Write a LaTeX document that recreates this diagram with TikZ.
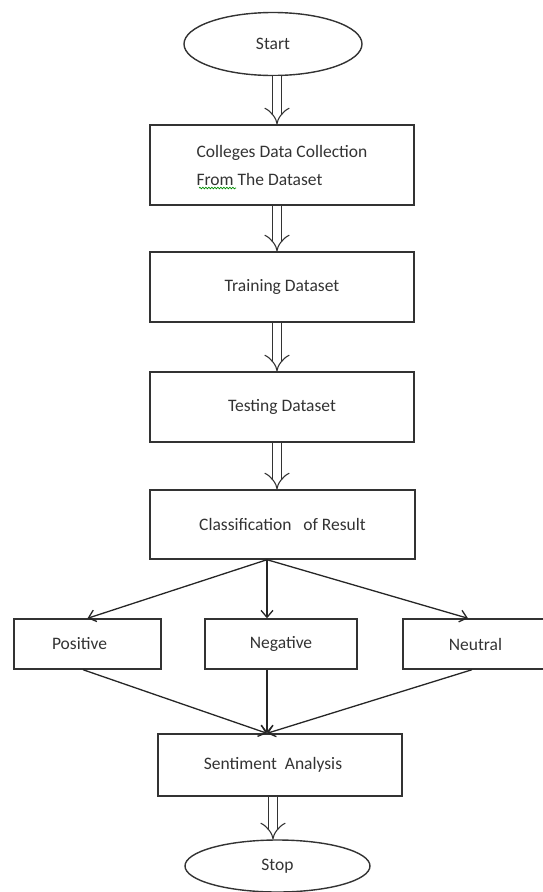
\documentclass[tikz,border=0pt]{standalone}
\usepackage{fontspec}
\setmainfont{Carlito}
\usetikzlibrary{arrows.meta,shapes.geometric,decorations.pathmorphing}
\begin{document}
\begin{tikzpicture}[x=1pt,y=-1pt,
  box/.style={draw=black!80, line width=1.4pt, rectangle, inner sep=0pt,
    font=\fontsize{17.5}{28}\selectfont, text=black!80},
  oval/.style={draw=black!80, line width=1.4pt, ellipse, inner sep=0pt,
    font=\fontsize{17.5}{21}\selectfont, text=black!80},
  dbl/.style={draw=black!80, line width=1.1pt, double, double distance=8pt, -{Implies}},
  arr/.style={draw=black!85, line width=1.3pt, -{Straight Barb[length=7pt,width=12pt]}}
]
\useasboundingbox (0,0) rectangle (542,892);
\node[oval, minimum width=178pt, minimum height=63pt] (start) at (273,44) {Start};
\node[box, minimum width=264pt, minimum height=80pt, align=left] (b1) at (282,165) {Colleges Data Collection\\From The Dataset};
\node[box, minimum width=264pt, minimum height=70pt] (b2) at (282,287) {Training Dataset};
\node[box, minimum width=264pt, minimum height=70pt] (b3) at (282,407) {Testing Dataset};
\node[box, minimum width=265pt, minimum height=69pt] (b4) at (282.5,524.5) {Classification\ \ \ of Result};
\node[box, minimum width=147pt, minimum height=50pt] (pos) at (87.5,644) {Positive\kern16pt};
\node[box, minimum width=152pt, minimum height=50pt] (neg) at (281,644) {Negative};
\node[box, minimum width=145pt, minimum height=50pt] (neu) at (475.5,644) {Neutral};
\node[box, minimum width=244pt, minimum height=62pt] (sent) at (280,765) {Sentiment\ \ Analysis\kern14pt};
\node[oval, minimum width=185pt, minimum height=52pt] (stop) at (277.5,866) {Stop};

\draw[dbl] ([xshift=4pt]start.south) -- ([xshift=-5pt]b1.north);
\draw[dbl] ([xshift=-5pt]b1.south) -- ([xshift=-5pt]b2.north);
\draw[dbl] ([xshift=-5pt]b2.south) -- ([xshift=-5pt]b3.north);
\draw[dbl] ([xshift=-5pt]b3.south) -- ([xshift=-5.5pt]b4.north);
\draw[dbl] ([xshift=-7pt]sent.south) -- ([xshift=-4.5pt]stop.north);

\draw[arr] ([xshift=-15.5pt]b4.south) -- (pos.north);
\draw[arr] ([xshift=-15.5pt]b4.south) -- ([xshift=-14pt]neg.north);
\draw[arr] ([xshift=-15.5pt]b4.south) -- ([xshift=-7.5pt]neu.north);
\draw[arr] ([xshift=-4.5pt]pos.south) -- ([xshift=-13pt]sent.north);
\draw[arr] ([xshift=-14pt]neg.south) -- ([xshift=-13pt]sent.north);
\draw[arr] ([xshift=-3.5pt]neu.south) -- ([xshift=-13pt]sent.north);

\coordinate (wa) at (199,188);
\coordinate (wb) at (236,188);
\draw[green!55!black, line width=0.7pt, decorate, decoration={snake, amplitude=0.8pt, segment length=3pt}] (wa) -- (wb);
\end{tikzpicture}
\end{document}
